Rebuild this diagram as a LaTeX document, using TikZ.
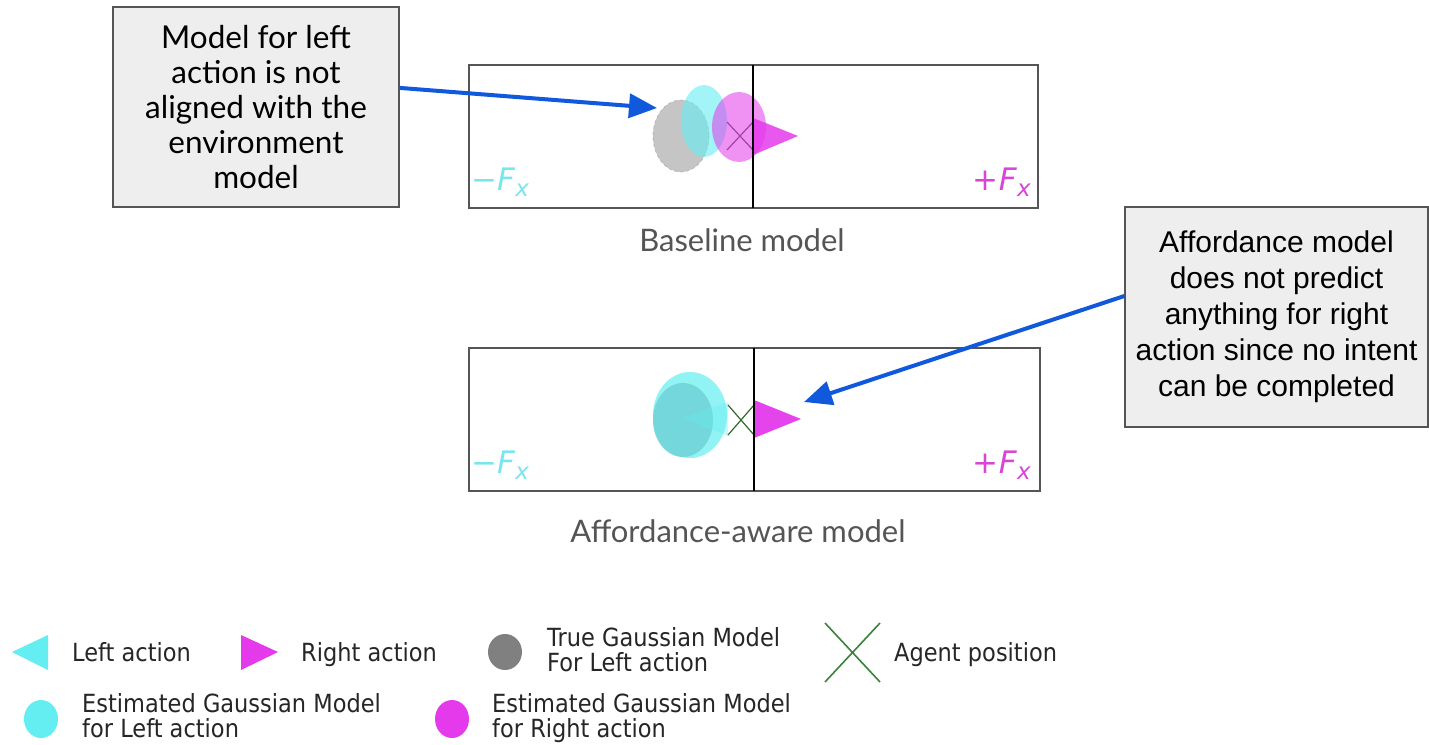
\documentclass[tikz,border=0pt]{standalone}
\usepackage{fontspec}
\usetikzlibrary{arrows.meta,calc}
\newfontfamily\gsans{Lato}
\newfontfamily\arialf{Liberation Sans}
\newfontfamily\dvs[FakeStretch=0.9]{DejaVu Sans}
\newfontfamily\dvsfx{DejaVu Sans}
\definecolor{lcyan}{RGB}{100,238,242}
\definecolor{lmag}{RGB}{228,58,236}
\definecolor{lgray}{RGB}{128,128,128}
\definecolor{lgreen}{RGB}{60,130,60}
\definecolor{barrow}{RGB}{16,88,220}
\definecolor{fxcyan}{RGB}{120,230,236}
\definecolor{fxmag}{RGB}{215,70,215}
\definecolor{boxfill}{RGB}{238,238,238}
\definecolor{boxline}{RGB}{85,85,85}
\definecolor{captext}{RGB}{85,85,85}
\definecolor{tealin}{RGB}{112,212,218}
\newcommand{\fxlab}[1]{{\dvsfx\fontsize{31}{32}\selectfont #1\textit{F}\raisebox{-6pt}{\fontsize{23}{23}\selectfont\textit{x}}}}
\tikzset{
  panel/.style={draw=boxline, line width=1.8pt},
  divider/.style={draw=black, line width=1.8pt},
  callout/.style={draw=boxline, fill=boxfill, line width=1.2pt, align=center, inner sep=0pt},
  bluearrow/.style={draw=barrow, line width=4pt, -{Triangle[length=28pt,width=24pt]}},
  caption/.style={text=captext, font=\gsans\fontsize{31}{33}\selectfont, inner sep=0pt},
  legtext/.style={font=\dvs\fontsize{25}{25}\selectfont, align=left, anchor=base west, inner sep=0pt, text=black!85},
  fxl/.style={inner sep=0pt},
}
\begin{document}
\begin{tikzpicture}[x=1pt,y=-1pt]
\useasboundingbox (0,0) rectangle (1429,744);
\fill[white] (0,0) rectangle (1429,744);

% ---------- top panel (baseline) ----------
\draw[panel] (469,65) rectangle (1038,208);
\fill[lgray, opacity=0.45] (681,136) ellipse [x radius=28, y radius=36];
\draw[lgray!80, dashed, line width=0.8pt, opacity=0.5] (681,136) ellipse [x radius=28, y radius=36];
\fill[lcyan, opacity=0.6] (704,121) ellipse [x radius=23, y radius=36];
\draw[black!70, line width=1.2pt] (727,122) -- (753,150) (727,150) -- (753,122);
\fill[lmag, opacity=0.55] (739,127) ellipse [x radius=27, y radius=35];
\fill[lmag, opacity=0.85] (753,118) -- (798,136) -- (753,155) -- cycle;
\draw[divider] (753,65) -- (753,208);
\node[fxl, text=fxcyan, anchor=base west] (fxl1) at (471,190) {\fxlab{−}};
\node[fxl, text=fxmag, anchor=base east] (fxr1) at (1031,190) {\fxlab{+}};
\node[caption] (cap1) at (742,240) {Baseline model};

% ---------- bottom panel (affordance) ----------
\draw[panel] (469,348) rectangle (1040,491);
\fill[lcyan, opacity=0.7] (690,415) ellipse [x radius=37, y radius=43];
\fill[tealin, opacity=0.9] (683,420) ellipse [x radius=30, y radius=37];
\fill[lcyan, opacity=0.35] (682,418) -- (728,402) -- (728,436) -- cycle;
\draw[lgreen!80!black, line width=1.2pt] (728,405) -- (754,435) (728,435) -- (754,405);
\fill[lmag, opacity=0.95] (754,400) -- (801,419) -- (754,438) -- cycle;
\draw[divider] (754,348) -- (754,491);
\node[fxl, text=fxcyan, anchor=base west] (fxl2) at (471,473) {\fxlab{−}};
\node[fxl, text=fxmag, anchor=base east] (fxr2) at (1031,473) {\fxlab{+}};
\node[caption] (cap2) at (738,531) {Affordance-aware model};

% ---------- callouts ----------
\node[callout, minimum width=286pt, minimum height=200pt,
      font=\gsans\fontsize{31.5}{35}\selectfont] (lc) at (256,107)
  {Model for left\\action is not\\aligned with the\\environment\\model};
\node[callout, minimum width=303pt, minimum height=220pt,
      font=\arialf\fontsize{30}{36}\selectfont] (rc) at (1276.5,317)
  {Affordance model\\does not predict\\anything for right\\action since no intent\\can be completed};

\coordinate (t1) at (657,108);
\coordinate (t2) at (804,402);
\draw[bluearrow] ($(lc.north east)!0.405!(lc.south east)$) -- (t1);
\draw[bluearrow] ($(rc.north west)!0.405!(rc.south west)$) -- (t2);

% ---------- legend ----------
\fill[lcyan] (12,652) -- (48,635) -- (48,670) -- cycle;
\node[legtext] (l1) at (72,661) {Left action};
\fill[lmag] (241,635) -- (278,652) -- (241,670) -- cycle;
\node[legtext] (l2) at (301,661) {Right action};
\fill[lgray] (505,652) ellipse [x radius=17, y radius=18];
\node[legtext] (l3) at (547,671) {True Gaussian Model\\For Left action};
\draw[lgreen, line width=1.6pt] (825,623) -- (880,682) (825,682) -- (880,623);
\node[legtext] (l4) at (894,661) {Agent position};
\fill[lcyan] (41,719) ellipse [x radius=17, y radius=19];
\node[legtext] (l5) at (82,737) {Estimated Gaussian Model\\for Left action};
\fill[lmag] (452,719) ellipse [x radius=17, y radius=19];
\node[legtext] (l6) at (492,737) {Estimated Gaussian Model\\for Right action};
\end{tikzpicture}
\end{document}
